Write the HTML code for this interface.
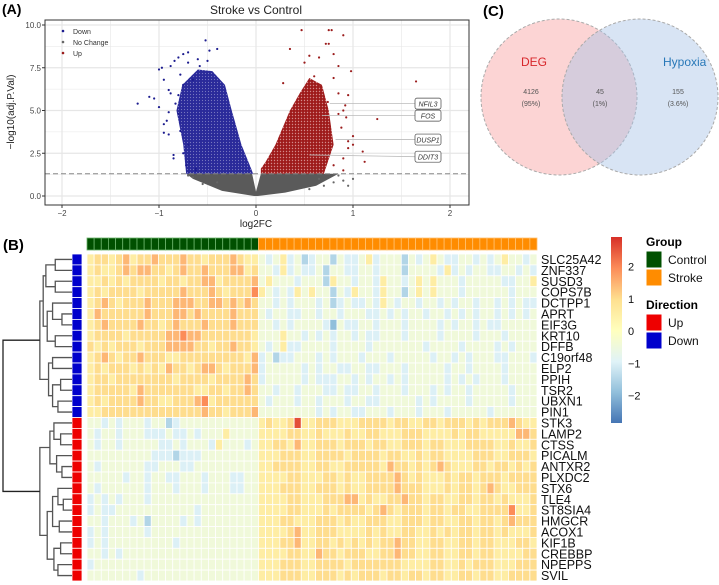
<!DOCTYPE html>
<html><head><meta charset="utf-8"><style>
body{margin:0;background:#fff}
svg{display:block;font-family:"Liberation Sans",sans-serif}
</style></head><body>
<svg id="fig" width="719" height="585" viewBox="0 0 719 585">
<defs>
<pattern id="dotB" width="3" height="3" patternUnits="userSpaceOnUse"><rect width="3" height="3" fill="#2a2a9a"/><circle cx="1.5" cy="1.5" r="0.6" fill="#7777c0"/></pattern>
<pattern id="dotR" width="3" height="3" patternUnits="userSpaceOnUse"><rect width="3" height="3" fill="#9e1a1a"/><circle cx="1.5" cy="1.5" r="0.7" fill="#d48a8a"/></pattern>
</defs>
<g id="volcano"></g>
<g id="venn"></g>
<g id="heat"></g>
</svg>
<script>
// ---------- Volcano data (log2FC, -log10 adj P) ----------
const downCore = [[-0.03,1.3],[-0.72,1.3],[-0.75,3],[-0.82,5],[-0.76,6.5],[-0.6,7.4],[-0.45,7.3],[-0.32,6.5],[-0.25,5],[-0.15,3],[-0.05,1.6]];
const upCore = [[0.05,1.3],[0.7,1.3],[0.8,3],[0.75,5],[0.68,6.5],[0.55,6.9],[0.45,6.0],[0.35,5],[0.2,3],[0.1,2.0],[0.05,1.6]];
const grayCore = [[-0.02,0],[-0.35,0.3],[-0.65,1.0],[-0.72,1.3],[-0.04,1.3],[0,0.25],[0.05,1.3],[0.85,1.3],[0.62,0.6],[0.3,0.2],[0.02,0]];
const downX = [-1.22,-1.1,-1.05,-1.0,-0.97,-0.95,-0.9,-0.88,-0.84,-0.8,-0.75,-0.7,-0.52,-0.48,-0.4,-1.0,-0.95,-0.9,-0.95,-0.85,-0.75,-0.85,-0.68,-0.72,-0.9,-0.8,-0.83,-0.75,-0.7,-0.6,-0.65,-0.78,-0.7,-0.62,-0.58,-0.5,-0.62,-0.88,-0.92,-0.8,-0.78];
const downY = [5.4,5.8,5.7,7.4,7.5,6.8,6.2,7.6,7.9,8.1,8.3,8.4,9.1,8.5,8.6,5.2,3.7,3.6,4.2,2.4,2.5,2.2,2.0,1.8,4.9,4.8,5.4,6.5,7.8,8.0,6.8,3.8,3.0,1.6,7.6,7.9,1.5,6.0,4.4,5.9,7.1];
const upX = [0.47,0.75,0.78,0.9,0.72,0.75,0.35,0.55,0.65,0.8,0.5,0.85,0.98,1.65,1.25,0.95,0.92,0.93,1.0,1.1,1.12,1.0,0.9,0.65,0.8,0.28,0.7,0.8,0.9,0.74,0.85,0.6,0.95,0.88,0.95,0.85,0.9];
const upY = [9.7,9.7,9.7,9.4,8.9,8.9,8.6,8.2,8.1,8.3,7.8,7.6,7.3,6.7,4.5,5.9,5.3,4.6,3.5,2.6,2.0,3.0,2.2,6.5,6.9,6.6,2.3,1.8,1.5,5.5,4.8,7.0,3.2,4.0,2.8,6.0,5.0];
const grayX = [-0.65,-0.55,0.65,0.8,0.9,0.95,1.0,0.7,-0.4,0.55,-0.7,0.85];
const grayY = [1.1,0.7,1.0,0.8,0.9,0.6,1.0,0.6,0.8,0.4,1.2,1.2];
const labelGenes = ["NFIL3","FOS","DUSP1","DDIT3"];
const labelX = [0.76,0.68,0.82,0.55];
const labelY = [5.4,4.7,3.3,2.4];
const labelBoxY = [5.4,4.7,3.3,2.3];
const xTicks = [-2,-1,0,1,2];
const yTicks = [0,2.5,5,7.5,10];
const threshold = 1.3;

// ---------- Venn data ----------
const vennSets = ["DEG","Hypoxia"];
const vennCounts = ["4126","45","155"];
const vennPcts = ["(95%)","(1%)","(3.6%)"];

// ---------- Heatmap data ----------
const genes = ["SLC25A42","ZNF337","SUSD3","COPS7B","DCTPP1","APRT","EIF3G","KRT10","DFFB","C19orf48","ELP2","PPIH","TSR2","UBXN1","PIN1","STK3","LAMP2","CTSS","PICALM","ANTXR2","PLXDC2","STX6","TLE4","ST8SIA4","HMGCR","ACOX1","KIF1B","CREBBP","NPEPPS","SVIL"];
const direction = ["Down","Down","Down","Down","Down","Down","Down","Down","Down","Down","Down","Down","Down","Down","Down","Up","Up","Up","Up","Up","Up","Up","Up","Up","Up","Up","Up","Up","Up","Up"];
const nControl = 24;
const nStroke = 39;
const levelValues = [-2.4,-1.9,-1.5,-1.0,-0.45,0.55,1.0,1.45,1.95,2.6];
const heatRows = [
"566567566766676656667655"+"4345342344243345344424345433443434544345",
"565567677665676676667756"+"4435343342443344344424444353434433443434",
"556565666656656677566667"+"4544434442544344354434545444344444334454",
"565666656666676667656668"+"5434354544243544354424545444344444434444",
"567656667666777667767676"+"4434344434234334354344344343443443434334",
"576666667666776766667666"+"4344334434434443343434434434343443434344",
"567666676656766676667666"+"4434344443143344344434444343443433444444",
"566665666667787766666665"+"4445443434344343344434444344443444344444",
"656566656667777665667665"+"4345334444344443444444434444344443434444",
"567656676665566666666657"+"3423344434344434443444443443434443344434",
"565666565657665677656667"+"3444443434433443344434444434434444344444",
"566566666666566665666676"+"3444443433344343443434444434343444344444",
"566666576666666556656676"+"4434434443343344344434443434434444434444",
"565666676655666785666666"+"4344434434443443344444343444434444434444",
"556666666666666676656667"+"4444444434344334443444344434444434444445",
"443434443442344444444444"+"5655695566655566665665566566656566676556",
"434434443334334344454444"+"5555665565556556655566655556566555557765",
"434434444433434443544434"+"5566575566656665665566656655566665565565",
"444444444333233344444444"+"5556665566665666656655656655556665566655",
"434444443344433444444444"+"5566665566556666657665656765556656656565",
"444443443443344434443344"+"5555665556656556666765655565665666566665",
"434444443444344434443344"+"5556665566656556666766655565665676556665",
"343434443444444444444444"+"5555665556667756556676656655665665655565",
"343344444444444344444444"+"5555665556566665676566656656655666685566",
"443444342444434344444444"+"5556655566656556665566656655665665676665",
"343444443444444444444444"+"5555675566655556565566556565665665655565",
"343444444444344444444444"+"5556675566565656566766556655665665556655",
"443434444444444444444444"+"5555665576656665566766556655665665555665",
"344444444444444444444444"+"5556665566665666666655556655656665556665",
"444444434444444444444444"+"5556665566656566656656656655665665566665"
];
const scaleTicks = [2,1,0,-1,-2];
// dendrogram subtrees: [left,right,height]; numbers are row indices
const clA = [[0,1,0.22],[2,3,0.22],0.36];
const clB = [[4,[5,6,0.12],0.26],[7,8,0.22],0.34];
const clC = [[9,10,0.26],[[11,12,0.14],[13,14,0.18],0.26],0.32];
const clD = [[15,[16,17,0.14],0.24],[18,[19,20,0.12],0.2],0.3];
const clE = [[21,[22,23,0.1],0.18],[24,25,0.16],0.26];
const clF = [[26,27,0.14],[28,29,0.18],0.24];
const tree = [[[clA,clB,0.4],clC,0.45],[clD,[clE,clF,0.34],0.45],1.0];

const NS="http://www.w3.org/2000/svg";
function mk(parent,tag,attrs,text){const e=document.createElementNS(NS,tag);for(const k in attrs)e.setAttribute(k,attrs[k]);if(text!==undefined)e.textContent=text;parent.appendChild(e);return e;}

// ===== Volcano =====
const V=document.getElementById('volcano');
const px0=45,px1=469,py0=20,py1=205;
const sx=v=>256+v*97, sy=v=>196-v*17.1;
let t;
t=mk(V,'text',{x:2,y:14,'font-size':14,'font-weight':'bold'},'(A)');

t=mk(V,'text',{x:256,y:14,'font-size':12,'text-anchor':'middle',fill:'#222'},'Stroke vs Control');

for(let v=-2;v<=2;v+=0.5){const g=mk(V,'line',{x1:sx(v),x2:sx(v),y1:py0,y2:py1,stroke:'#e6e6e6','stroke-width':Number.isInteger(v)?1.2:0.6});}
for(let v=0;v<=10.5;v+=1.25){const g=mk(V,'line',{x1:px0,x2:px1,y1:sy(v),y2:sy(v),stroke:'#e6e6e6','stroke-width':(v%2.5===0)?1.2:0.6});}
function poly(arr,fill,op,name){const p=mk(V,'polygon',{points:arr.map(d=>sx(d[0])+','+sy(d[1])).join(' '),fill:fill,'fill-opacity':op,'stroke-linejoin':'round'});}
poly(grayCore,'#5a5a5a','1','nochange-density');
poly(downCore,'url(#dotB)','1','down-density');
poly(upCore,'url(#dotR)','1','up-density');
function pts(xs,ys,fill,name){for(let i=0;i<xs.length;i++){const c=mk(V,'circle',{cx:sx(xs[i]),cy:sy(ys[i]),r:1.1,fill:fill});}}
pts(grayX,grayY,'#666','nochange-point');
pts(downX,downY,'#1c1c8f','down-point');
pts(upX,upY,'#9b1c1c','up-point');
t=mk(V,'line',{x1:px0,x2:px1,y1:sy(threshold),y2:sy(threshold),stroke:'#888','stroke-width':1,'stroke-dasharray':'5,3'});

for(let i=0;i<labelGenes.length;i++){
 const by=sy(labelBoxY[i]);
 const l=mk(V,'line',{x1:sx(labelX[i]),y1:sy(labelY[i]),x2:415,y2:by,stroke:'#bbb','stroke-width':0.8});
 
 const r=mk(V,'rect',{x:415,y:by-5.5,width:26,height:11,rx:2,fill:'#fff',stroke:'#444','stroke-width':0.7});
 
 const tx=mk(V,'text',{x:428,y:by+3,'font-size':7,'font-style':'italic','text-anchor':'middle',fill:'#333'},labelGenes[i]);
 
}
t=mk(V,'rect',{x:px0,y:py0,width:px1-px0,height:py1-py0,fill:'none',stroke:'#333','stroke-width':1});

xTicks.forEach(v=>{const tl=mk(V,'line',{x1:sx(v),x2:sx(v),y1:py1,y2:py1+3,stroke:'#333'});
 const tx=mk(V,'text',{x:sx(v),y:py1+11,'font-size':8,'text-anchor':'middle',fill:'#444'},v<0?'\u2212'+(-v):String(v));});
yTicks.forEach(v=>{const tl=mk(V,'line',{x1:px0-3,x2:px0,y1:sy(v),y2:sy(v),stroke:'#333'});
 const tx=mk(V,'text',{x:px0-4,y:sy(v)+3,'font-size':8,'text-anchor':'end',fill:'#444'},v.toFixed(1));});
t=mk(V,'text',{x:256,y:227,'font-size':10,'text-anchor':'middle',fill:'#222'},'log2FC');

t=mk(V,'text',{x:14,y:112,'font-size':10,'text-anchor':'middle',fill:'#222',transform:'rotate(-90 14 112)'},'\u2212log10(adj.P.Val)');

[['Down','#1c1c8f'],['No Change','#666'],['Up','#9b1c1c']].forEach((d,i)=>{
 const c=mk(V,'circle',{cx:63,cy:31+i*11,r:1.3,fill:d[1]});
 const tx=mk(V,'text',{x:73,y:34+i*11,'font-size':7,fill:'#333'},d[0]);});

// ===== Venn =====
const W=document.getElementById('venn');
t=mk(W,'text',{x:483,y:16,'font-size':15,'font-weight':'bold'},'(C)');

t=mk(W,'circle',{cx:559,cy:97,r:78,fill:'#f9a0a0','fill-opacity':0.45,stroke:'#aaa','stroke-dasharray':'3,2'});

t=mk(W,'circle',{cx:640,cy:97,r:78,fill:'#a8c4e6','fill-opacity':0.45,stroke:'#aaa','stroke-dasharray':'3,2'});

t=mk(W,'text',{x:521,y:66,'font-size':12,fill:'#d7262a'},vennSets[0]);

t=mk(W,'text',{x:663,y:66,'font-size':12,fill:'#2878b8'},vennSets[1]);

[531,600,678].forEach((x,i)=>{
 const a=mk(W,'text',{x:x,y:94,'font-size':7,'text-anchor':'middle',fill:'#555'},vennCounts[i]);
 const b=mk(W,'text',{x:x,y:106,'font-size':7,'text-anchor':'middle',fill:'#555'},vennPcts[i]);});

// ===== Heatmap =====
const H=document.getElementById('heat');
t=mk(H,'text',{x:3,y:250,'font-size':15,'font-weight':'bold'},'(B)');

const hx0=87,hy0=254,cw=450/(nControl+nStroke),ch=327/genes.length;
const stops=[[-2.85,[69,117,180]],[-1.9,[145,191,219]],[-0.95,[224,243,248]],[0,[255,255,191]],[0.97,[254,224,144]],[1.94,[252,141,89]],[2.91,[215,48,39]]];
function col(v){if(v<=stops[0][0])return 'rgb('+stops[0][1]+')';for(let i=1;i<stops.length;i++){if(v<=stops[i][0]){const a=stops[i-1],b=stops[i],f=(v-a[0])/(b[0]-a[0]);return 'rgb('+a[1].map((c,j)=>Math.round(c+(b[1][j]-c)*f)).join(',')+')';}}return 'rgb('+stops[stops.length-1][1]+')';}
const nCols=nControl+nStroke;
for(let r=0;r<genes.length;r++){
 const s=(heatRows[r]+'4'.repeat(nCols)).slice(0,nCols);
 for(let c=0;c<nCols;c++){
  const cell=mk(H,'rect',{x:hx0+c*cw,y:hy0+r*ch,width:cw,height:ch,fill:col(levelValues[+s[c]]),stroke:'#fff','stroke-width':0.8});
  
 }
 const lab=mk(H,'text',{x:541,y:hy0+r*ch+ch/2+4.5,'font-size':12.5,fill:'#111'},genes[r]);
 
 const d=mk(H,'rect',{x:72,y:hy0+r*ch,width:10,height:ch,fill:direction[r]==='Up'?'#ee0000':'#0000cc',stroke:'#fff','stroke-width':0.8});
 
}
for(let c=0;c<nCols;c++){
 const a=mk(H,'rect',{x:hx0+c*cw,y:238,width:cw,height:12,fill:c<nControl?'#005000':'#ff8c00',stroke:c<nControl?'#6bb36b':'#ffc070','stroke-width':0.8});
 
}
function leafY(i){return hy0+i*ch+ch/2;}
function draw(node){
 if(typeof node==='number')return {y:leafY(node),x:72};
 const L=draw(node[0]),R=draw(node[1]);const x=70-node[2]*67;
 const p=mk(H,'path',{d:'M'+L.x+','+L.y+'H'+x+'V'+R.y+'H'+R.x,fill:'none',stroke:node[2]>=0.9?'#222':'#555','stroke-width':1.3});
 
 return {y:(L.y+R.y)/2,x:x};
}
draw(tree);
const defs=mk(H,'defs',{});const lg=mk(defs,'linearGradient',{id:'cg',x1:0,y1:1,x2:0,y2:0});
stops.forEach(s=>mk(lg,'stop',{offset:((s[0]+2.85)/5.76),'stop-color':'rgb('+s[1]+')'}));
t=mk(H,'rect',{x:611,y:237,width:11,height:186,fill:'url(#cg)'});

scaleTicks.forEach(v=>{const tx=mk(H,'text',{x:628,y:331-v*32.25+4,'font-size':11,fill:'#111'},v<0?'\u2212'+(-v):String(v));});
t=mk(H,'text',{x:646,y:246,'font-size':12,'font-weight':'bold'},'Group');

t=mk(H,'text',{x:646,y:309,'font-size':12,'font-weight':'bold'},'Direction');

[['Control','#005000',251],['Stroke','#ff8c00',269],['Up','#ee0000',314],['Down','#0000cc',332]].forEach(d=>{
 const r=mk(H,'rect',{x:646,y:d[2],width:16,height:17,fill:d[1],stroke:'#fff'});
 const tx=mk(H,'text',{x:668,y:d[2]+13,'font-size':12,fill:'#111'},d[0]);});
</script>
</body></html>
